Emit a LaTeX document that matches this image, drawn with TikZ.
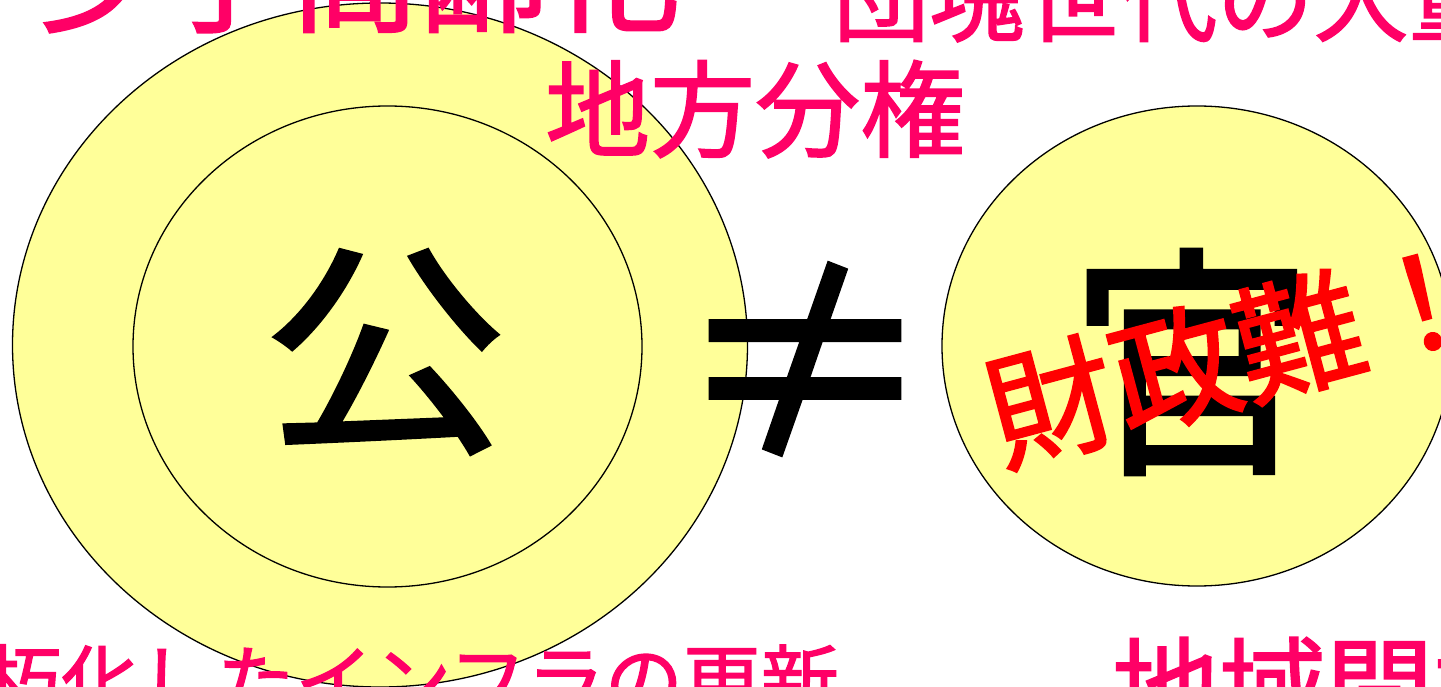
\documentclass[tikz,border=0pt]{standalone}
\usepackage{fontspec}
\setmainfont{Noto Sans CJK JP}
\newfontfamily\semib{Noto Sans CJK JP}[FakeBold=1.6]
\usetikzlibrary{shapes.geometric}
\definecolor{paleyellow}{HTML}{FFFF99}
\definecolor{hotpink}{HTML}{FF0066}
\definecolor{alarmred}{HTML}{FF0000}
\newcommand{\fs}[1]{\fontsize{#1}{#1}\selectfont}
\tikzset{
  disc/.style={ellipse, draw=black, line width=1.3pt, fill=paleyellow, inner sep=0pt},
  pinktext/.style={text=hotpink, inner sep=0pt},
  bigchar/.style={text=black, inner sep=0pt, font=\semib\fs{245}},
}
\begin{document}
\begin{tikzpicture}[x=1pt,y=-1pt]
\useasboundingbox (0,0) rectangle (1441,687);
\clip (0,0) rectangle (1441,687);
% circles
\node[disc, minimum width=735pt, minimum height=684pt] (outer) at (380,345) {};
\node[disc, minimum width=509pt, minimum height=481pt] (inner) at (387.5,346.5) {};
\node[disc, minimum width=510pt, minimum height=480pt] (right) at (1197,346) {};
% main characters
\node[bigchar, yscale=0.93] (ko) at (385,352) {公};
\node[bigchar] (kan) at (1192,362) {官};
\node[text=black, inner sep=0pt, font=\semib\fs{260}, yscale=1.04] (neq) at (805,362) {≠};
% pink texts
\node[pinktext, font=\semib\fs{130}, anchor=base east] (t1) at (680,22) {少子高齢化};
\node[pinktext, font=\semib\fs{96}, anchor=base west] (t2) at (833,34) {団塊世代の大量退職};
\node[pinktext, font=\semib\fs{105}, anchor=base west] (t3) at (545,149) {地方分権};
\node[pinktext, font=\semib\fs{78}, anchor=base west] (t4) at (-95,710) {老朽化したインフラの更新};
\node[pinktext, font=\semib\fs{107}, anchor=base west] (t5) at (1112,727) {地域間格差};
% red rotated
\node[text=alarmred, inner sep=0pt, font=\semib\fs{128}, rotate=15] (fin) at (1237,352) {財政難！};
\end{tikzpicture}
\end{document}
